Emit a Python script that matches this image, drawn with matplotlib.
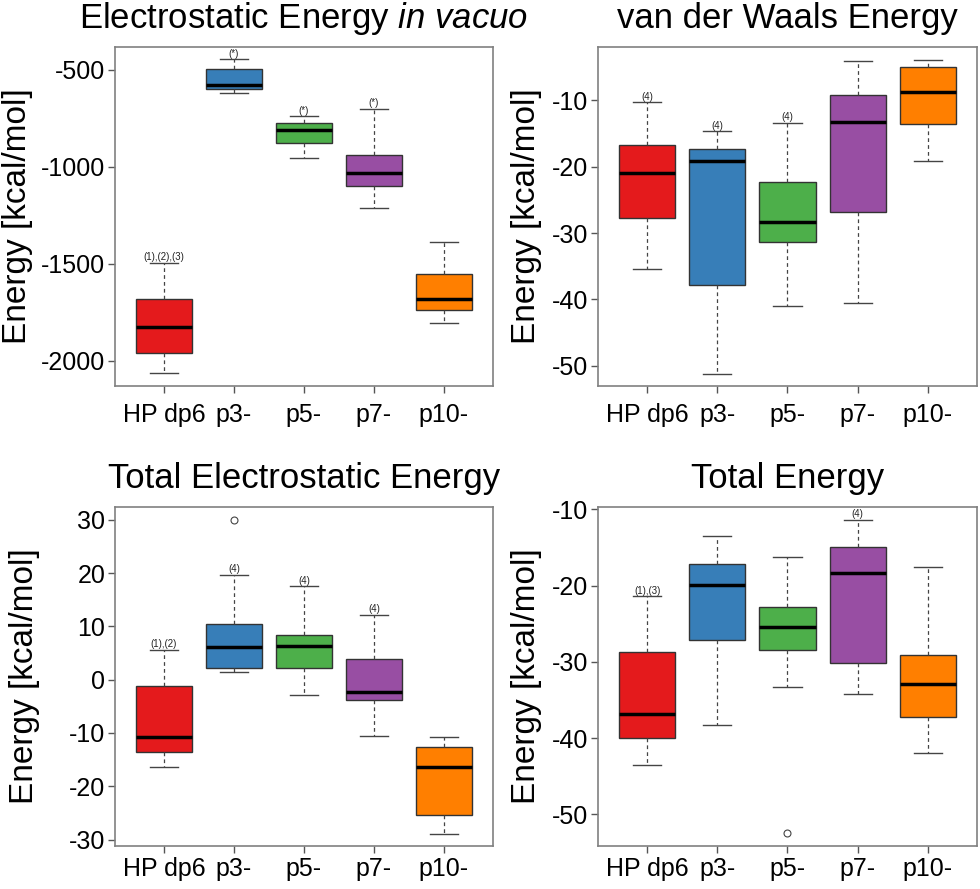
import matplotlib
matplotlib.use("Agg")
import matplotlib.pyplot as plt

plt.rcParams['font.family'] = ['Liberation Sans', 'DejaVu Sans']
plt.rcParams['mathtext.fontset'] = 'custom'
plt.rcParams['mathtext.rm'] = 'Liberation Sans'
plt.rcParams['mathtext.it'] = 'Liberation Sans:italic'

groups = ['HP dp6', 'p3-', 'p5-', 'p7-', 'p10-']
colors = ['#E41A1C', '#377EB8', '#4DAF4A', '#984EA3', '#FF7F00']

# electrostatic in vacuo
elec_vac_lo = [-2065, -620, -957, -1215, -1807]
elec_vac_q1 = [-1959, -600, -876, -1100, -1740]
elec_vac_med = [-1828, -579, -813, -1031, -1682]
elec_vac_q3 = [-1684, -497, -773, -940, -1555]
elec_vac_hi = [-1497, -447, -741, -703, -1386]
elec_vac_out = [[], [], [], [], []]
elec_vac_note = ['(1),(2),(3)', '(*)', '(*)', '(*)', '']

# van der Waals
vdw_lo = [-35.4, -51.2, -41.0, -40.6, -19.1]
vdw_q1 = [-27.7, -37.9, -31.4, -26.9, -13.5]
vdw_med = [-21.0, -19.1, -28.4, -13.2, -8.8]
vdw_q3 = [-16.8, -17.4, -22.3, -9.2, -5.0]
vdw_hi = [-10.3, -14.7, -13.4, -4.1, -3.9]
vdw_out = [[], [], [], [], []]
vdw_note = ['(4)', '(4)', '(4)', '', '']

# total electrostatic
tot_elec_lo = [-16.3, 1.4, -2.9, -10.6, -28.9]
tot_elec_q1 = [-13.6, 2.1, 2.1, -3.9, -25.4]
tot_elec_med = [-10.8, 6.2, 6.25, -2.4, -16.4]
tot_elec_q3 = [-1.1, 10.4, 8.4, 3.9, -12.6]
tot_elec_hi = [5.6, 19.7, 17.5, 12.1, -10.7]
tot_elec_out = [[], [30.0], [], [], []]
tot_elec_note = ['(1),(2)', '(4)', '(4)', '(4)', '']

# total
tot_lo = [-43.5, -38.3, -33.3, -34.2, -41.9]
tot_q1 = [-40.0, -27.2, -28.4, -30.1, -37.2]
tot_med = [-36.8, -19.9, -25.4, -18.3, -32.9]
tot_q3 = [-28.7, -17.2, -22.8, -15.0, -29.1]
tot_hi = [-21.4, -13.45, -16.3, -11.35, -17.6]
tot_out = [[], [], [-52.5], [], []]
tot_note = ['(1),(3)', '', '', '(4)', '']

panels = [
    (r'Electrostatic Energy $\mathit{in\ vacuo}$', elec_vac_lo, elec_vac_q1, elec_vac_med, elec_vac_q3, elec_vac_hi,
     elec_vac_out, elec_vac_note, (-2130, -383), [-2000, -1500, -1000, -500],
     [0.1173, 0.5658, 0.3857, 0.3813], -0.217, 7),
    ('van der Waals Energy', vdw_lo, vdw_q1, vdw_med, vdw_q3, vdw_hi,
     vdw_out, vdw_note, (-53.06, -1.97), [-50, -40, -30, -20, -10],
     [0.6102, 0.5658, 0.3867, 0.3813], -0.148, 7),
    ('Total Electrostatic Energy', tot_elec_lo, tot_elec_q1, tot_elec_med, tot_elec_q3, tot_elec_hi,
     tot_elec_out, tot_elec_note, (-31.2, 32.4), [-30, -20, -10, 0, 10, 20, 30],
     [0.1173, 0.0484, 0.3857, 0.3813], -0.198, 3),
    ('Total Energy', tot_lo, tot_q1, tot_med, tot_q3, tot_hi,
     tot_out, tot_note, (-54.15, -9.69), [-50, -40, -30, -20, -10],
     [0.6102, 0.0484, 0.3867, 0.3813], -0.148, 3),
]

fig = plt.figure(figsize=(9.8, 8.89), dpi=100)

for title, lo, q1, med, q3, hi, out, note, ylim, yticks, rect, labx, xpad in panels:
    ax = fig.add_axes(rect)
    stats = []
    for i in range(len(groups)):
        stats.append(dict(whislo=lo[i], q1=q1[i], med=med[i], q3=q3[i],
                          whishi=hi[i], fliers=out[i], label=groups[i]))
    pos = list(range(1, len(groups) + 1))
    bp = ax.bxp(stats, positions=pos, widths=0.8, capwidths=0.4,
                patch_artist=True, showfliers=True,
                boxprops=dict(edgecolor='#333333', linewidth=1.0),
                medianprops=dict(color='black', linewidth=2.5),
                whiskerprops=dict(color='#444444', linewidth=0.9, linestyle=(0, (3, 2.5))),
                capprops=dict(color='#444444', linewidth=1.0),
                flierprops=dict(marker='o', markerfacecolor='none', markeredgecolor='#444444',
                                markersize=5, markeredgewidth=0.8))
    for patch, c in zip(bp['boxes'], colors):
        patch.set_facecolor(c)
    for i, txt in enumerate(note):
        if txt:
            ax.annotate(txt, (pos[i], hi[i]), xytext=(0, 0.5), textcoords='offset points',
                        ha='center', va='bottom', fontsize=7, color='#222222')
    ax.set_xlim(0.3, 5.7)
    ax.set_ylim(*ylim)
    ax.set_yticks(yticks)
    ax.set_yticklabels([str(t) for t in yticks])
    ax.set_xticks(pos)
    ax.set_xticklabels(groups)
    ax.tick_params(axis='x', length=5, width=1.0, color='#555555', labelsize=18, pad=xpad)
    ax.tick_params(axis='y', length=5, width=1.0, color='#555555', labelsize=18, pad=2)
    for sp in ax.spines.values():
        sp.set_color('#808080')
        sp.set_linewidth(1.2)
    ax.set_title(title, fontsize=25, pad=13.5)
    ax.set_ylabel('Energy [kcal/mol]', fontsize=24)
    ax.yaxis.set_label_coords(labx, 0.5)

fig.savefig('out.png', dpi=100)
